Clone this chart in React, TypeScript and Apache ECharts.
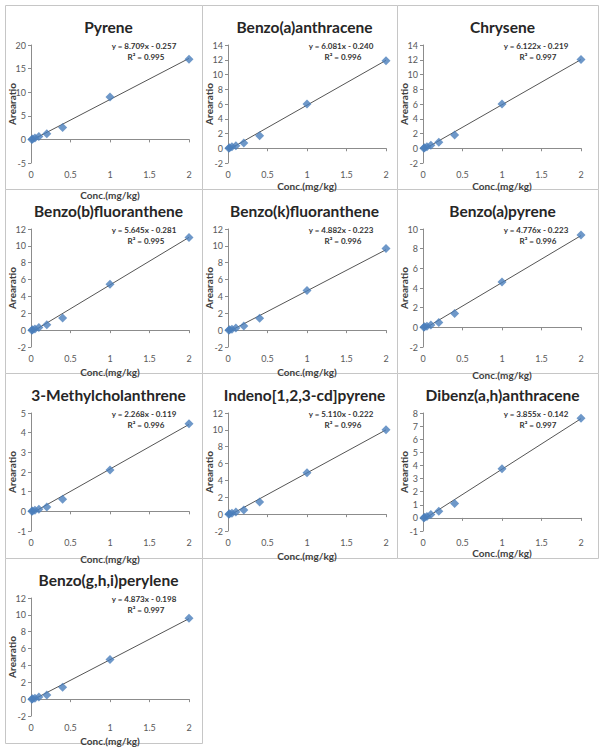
import React, { useEffect, useRef } from "react";
import * as echarts from "echarts";

const compounds = [
  "Pyrene",
  "Benzo(a)anthracene",
  "Chrysene",
  "Benzo(b)fluoranthene",
  "Benzo(k)fluoranthene",
  "Benzo(a)pyrene",
  "3-Methylcholanthrene",
  "Indeno[1,2,3-cd]pyrene",
  "Dibenz(a,h)anthracene",
  "Benzo(g,h,i)perylene",
];

const concentrations = [0.01, 0.02, 0.05, 0.1, 0.2, 0.4, 1, 2];

const pyrene = [0.0, 0.1, 0.3, 0.6, 1.2, 2.5, 9.0, 17.0];
const benzoAAnthracene = [0.0, 0.08, 0.2, 0.35, 0.7, 1.7, 6.0, 11.85];
const chrysene = [0.0, 0.08, 0.2, 0.4, 0.8, 1.8, 6.0, 12.05];
const benzoBFluoranthene = [0.0, 0.06, 0.15, 0.3, 0.65, 1.45, 5.45, 11.0];
const benzoKFluoranthene = [0.0, 0.05, 0.12, 0.25, 0.5, 1.4, 4.7, 9.7];
const benzoAPyrene = [0.0, 0.05, 0.12, 0.25, 0.5, 1.4, 4.6, 9.4];
const methylcholanthrene = [0.0, 0.02, 0.05, 0.1, 0.22, 0.62, 2.1, 4.45];
const indenoPyrene = [0.0, 0.05, 0.12, 0.25, 0.5, 1.45, 4.9, 10.0];
const dibenzAnthracene = [0.0, 0.04, 0.1, 0.25, 0.5, 1.1, 3.75, 7.6];
const benzoGHIPerylene = [0.0, 0.05, 0.12, 0.25, 0.5, 1.4, 4.7, 9.6];

const areaRatios = [
  pyrene,
  benzoAAnthracene,
  chrysene,
  benzoBFluoranthene,
  benzoKFluoranthene,
  benzoAPyrene,
  methylcholanthrene,
  indenoPyrene,
  dibenzAnthracene,
  benzoGHIPerylene,
];

const slopes = [8.709, 6.081, 6.122, 5.645, 4.882, 4.776, 2.268, 5.11, 3.855, 4.873];
const intercepts = [-0.257, -0.24, -0.219, -0.281, -0.223, -0.223, -0.119, -0.222, -0.142, -0.198];
const rSquared = ["0.995", "0.996", "0.997", "0.995", "0.996", "0.996", "0.996", "0.996", "0.997", "0.997"];

const yMins = [-5, -2, -2, -2, -2, -2, -1, -2, -1, -2];
const yMaxs = [20, 14, 14, 12, 12, 10, 5, 12, 8, 12];
const yIntervals = [5, 2, 2, 2, 2, 2, 1, 2, 1, 2];

const xTicks = [0, 0.5, 1, 1.5, 2];

const colX = [5, 202, 397];
const colW = [197, 195, 201];
const rowY = [5, 189, 373, 558];
const rowH = [184, 184, 185, 185];

const FONT = "Lato, 'Open Sans', sans-serif";

export default function App() {
  const ref = useRef<HTMLDivElement>(null);

  useEffect(() => {
    if (!ref.current) return;
    const chart = echarts.init(ref.current, undefined, { renderer: "svg" });

    const grids: any[] = [];
    const xAxes: any[] = [];
    const yAxes: any[] = [];
    const series: any[] = [];
    const titles: any[] = [];
    const graphics: any[] = [];

    compounds.forEach((name, i) => {
      const c = i % 3;
      const r = Math.floor(i / 3);
      const px = colX[c];
      const py = rowY[r];
      const pw = colW[c];
      const ph = rowH[r];
      const gl = px + 26;
      const gt = py + 40;
      const gw = 158;
      const gh = 118;

      graphics.push({
        type: "rect",
        shape: { x: px + 0.5, y: py + 0.5, width: pw, height: ph },
        style: { fill: "#ffffff", stroke: "#c6c6c6", lineWidth: 1 },
        z: -10,
      });

      grids.push({ left: gl, top: gt, width: gw, height: gh });

      const zeroY = gh * (yMaxs[i] / (yMaxs[i] - yMins[i]));
      const nameGap = 121 - zeroY;

      xAxes.push({
        type: "value",
        gridIndex: i,
        min: xTicks[0],
        max: xTicks[xTicks.length - 1],
        interval: 0.5,
        name: "Conc.(mg/kg)",
        nameLocation: "middle",
        nameGap: nameGap,
        nameTextStyle: { fontFamily: FONT, fontSize: 10, fontWeight: "bold", color: "#404040", verticalAlign: "top" },
        axisLine: { show: true, onZero: true, lineStyle: { color: "#8c8c8c", width: 1 } },
        axisTick: { show: true, length: 3, lineStyle: { color: "#8c8c8c" } },
        axisLabel: { fontFamily: FONT, fontSize: 9, color: "#595959", margin: 7 },
        splitLine: { show: false },
      });

      yAxes.push({
        type: "value",
        gridIndex: i,
        min: yMins[i],
        max: yMaxs[i],
        interval: yIntervals[i],
        name: "Arearatio",
        nameLocation: "middle",
        nameGap: 14,
        nameMoveOverlap: false,
        nameTextStyle: { fontFamily: FONT, fontSize: 10, fontWeight: "bold", color: "#404040" },
        axisLine: { show: true, onZero: false, lineStyle: { color: "#8c8c8c", width: 1 } },
        axisTick: { show: true, length: 3, lineStyle: { color: "#8c8c8c" } },
        axisLabel: { fontFamily: FONT, fontSize: 9, color: "#595959", margin: 5 },
        splitLine: { show: false },
      });

      const x0 = concentrations[0];
      const x1 = concentrations[concentrations.length - 1];
      series.push({
        type: "line",
        xAxisIndex: i,
        yAxisIndex: i,
        data: [
          [x0, slopes[i] * x0 + intercepts[i]],
          [x1, slopes[i] * x1 + intercepts[i]],
        ],
        symbol: "none",
        lineStyle: { color: "#555555", width: 1 },
        z: 2,
      });

      series.push({
        type: "scatter",
        xAxisIndex: i,
        yAxisIndex: i,
        data: concentrations.map((x, k) => [x, areaRatios[i][k]]),
        symbol: "diamond",
        symbolSize: 9,
        itemStyle: { color: "#4a7ebb" },
        z: 3,
      });

      titles.push({
        text: name,
        left: px + pw / 2,
        top: py + 9,
        textAlign: "center",
        textStyle: { fontFamily: FONT, fontSize: 15.5, fontWeight: "bold", color: "#262626" },
      });

      const sign = intercepts[i] < 0 ? "-" : "+";
      graphics.push({
        type: "text",
        x: px + 139,
        y: py + 41,
        style: {
          text: `y = ${slopes[i].toFixed(3)}x ${sign} ${Math.abs(intercepts[i]).toFixed(3)}`,
          fontFamily: FONT,
          fontSize: 8,
          fontWeight: "bold",
          fill: "#333333",
          textAlign: "center",
          textVerticalAlign: "middle",
        },
        z: 10,
      });
      graphics.push({
        type: "text",
        x: px + 141,
        y: py + 52,
        style: {
          text: `R² = ${rSquared[i]}`,
          fontFamily: FONT,
          fontSize: 8,
          fontWeight: "bold",
          fill: "#333333",
          textAlign: "center",
          textVerticalAlign: "middle",
        },
        z: 10,
      });
    });

    chart.setOption({
      animation: false,
      backgroundColor: "#ffffff",
      title: titles,
      grid: grids,
      xAxis: xAxes,
      yAxis: yAxes,
      series,
      graphic: graphics,
    });

    return () => chart.dispose();
  }, []);

  return (
    <div
      ref={ref}
      style={{ position: "absolute", left: 0, top: 0, width: 604, height: 751 }}
    />
  );
}
